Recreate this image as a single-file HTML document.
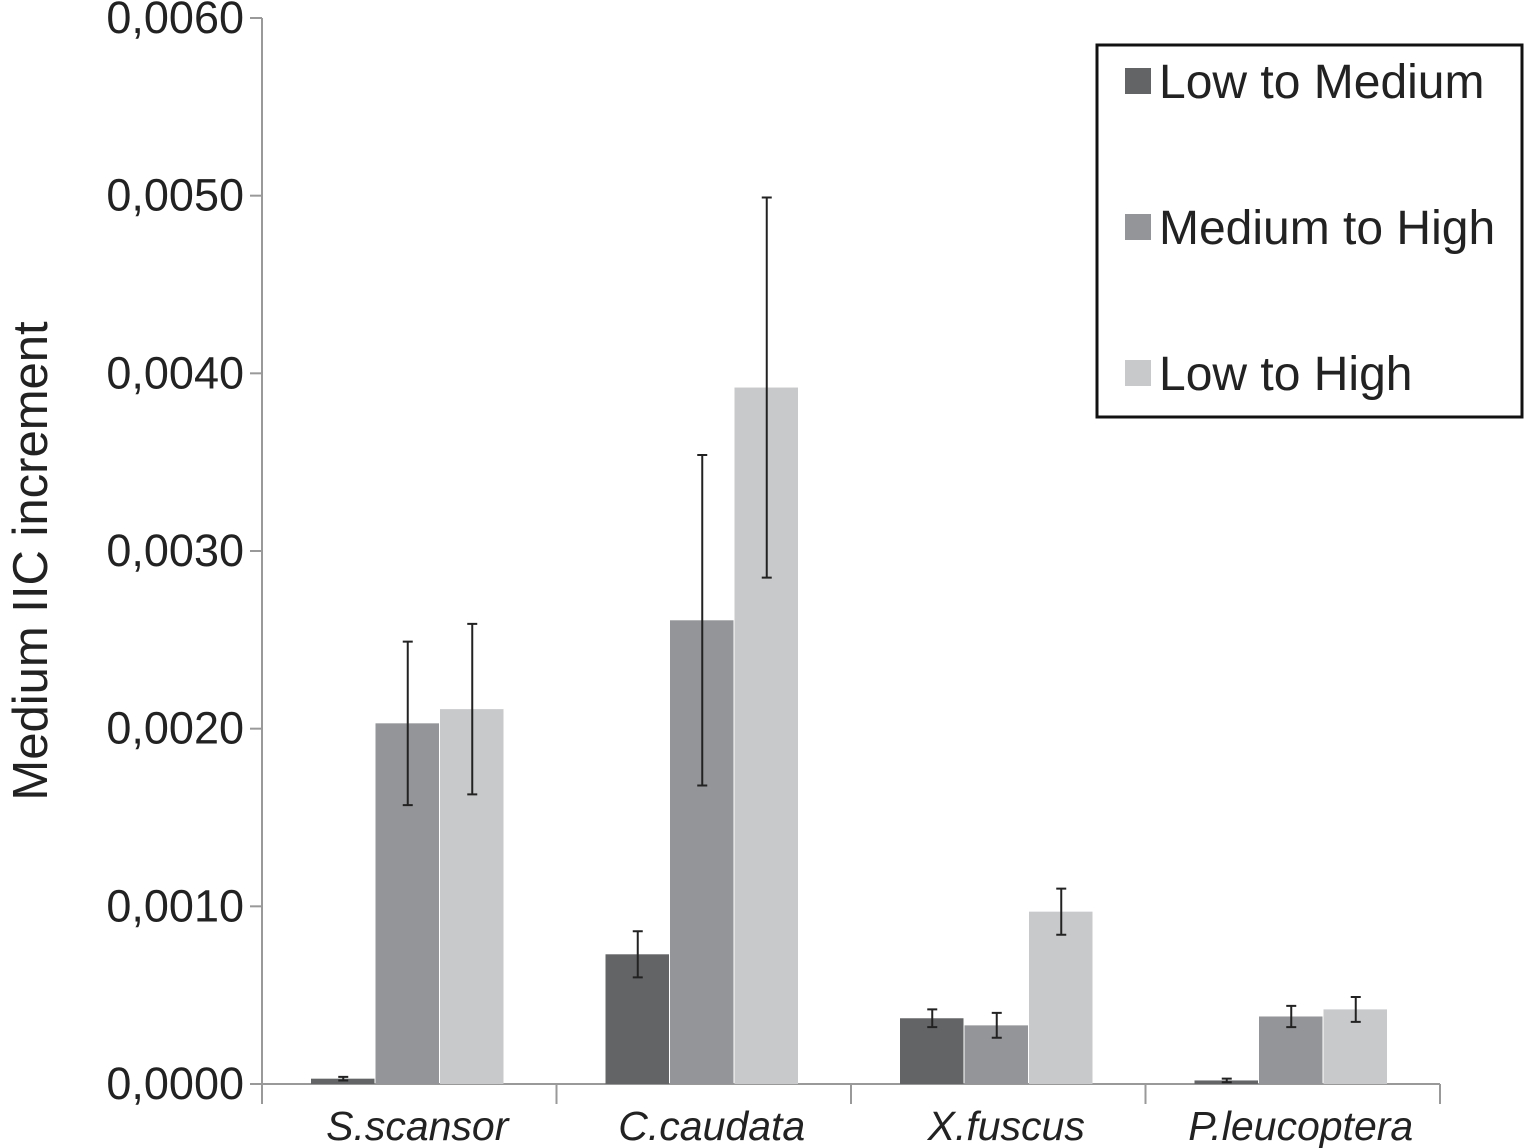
<!DOCTYPE html>
<html><head><meta charset="utf-8"><style>
body{margin:0;background:#fff;}
svg{display:block;font-family:"Liberation Sans",sans-serif;}
</style></head><body>
<svg id="chart" width="1525" height="1148"></svg>
<script>
const categories=["S.scansor","C.caudata","X.fuscus","P.leucoptera"];
const seriesNames=["Low to Medium","Medium to High","Low to High"];
const lowMed=[0.00003,0.00073,0.00037,0.00002];
const medHigh=[0.00203,0.00261,0.00033,0.00038];
const lowHigh=[0.00211,0.00392,0.00097,0.00042];
const errLowMed=[0.00001,0.00013,0.00005,0.00001];
const errMedHigh=[0.00046,0.00093,0.00007,0.00006];
const errLowHigh=[0.00048,0.00107,0.00013,0.00007];
const yTicks=["0,0000","0,0010","0,0020","0,0030","0,0040","0,0050","0,0060"];
const yTickVals=[0,0.001,0.002,0.003,0.004,0.005,0.006];

const NS="http://www.w3.org/2000/svg";
const svg=document.getElementById('chart');
const colors=["#636466","#939598","#c8c9cb"];
const x0=262,x1=1440,y0=1084,yTop=18,yMax=0.006;
const yS=v=>y0-(v/yMax)*(y0-yTop);
const catW=(x1-x0)/categories.length;
const barW=64.5;
function mk(t,a){const e=document.createElementNS(NS,t);for(const k in a)e.setAttribute(k,a[k]);svg.appendChild(e);return e;}

let e=mk('line',{x1:x0,y1:yTop,x2:x0,y2:y0,stroke:'#999','stroke-width':2});


e=mk('line',{x1:x0,y1:y0,x2:x1,y2:y0,stroke:'#999','stroke-width':2});


yTickVals.forEach((v,i)=>{
  const y=yS(v);
  mk('line',{x1:x0-12,y1:y,x2:x0,y2:y,stroke:'#999','stroke-width':2});
  const t=mk('text',{x:244,y:y+15,'text-anchor':'end','font-size':45,fill:'#222'});
  t.textContent=yTicks[i];
  
  
});
for(let i=0;i<=categories.length;i++){
  mk('line',{x1:x0+i*catW,y1:y0,x2:x0+i*catW,y2:y0+20,stroke:'#999','stroke-width':2});
}
const series=[lowMed,medHigh,lowHigh],errs=[errLowMed,errMedHigh,errLowHigh];
categories.forEach((c,i)=>{
  const gx=x0+i*catW+49;
  series.forEach((s,j)=>{
    const bx=gx+j*barW,y=yS(s[i]);
    const r=mk('rect',{x:bx,y:y,width:barW-1,height:y0-y,fill:colors[j]});
    
    
    const cx=bx+barW/2,yh=yS(s[i]+errs[j][i]),yl=yS(s[i]-errs[j][i]);
    const g=mk('path',{d:`M${cx},${yh}V${yl}M${cx-5},${yh}H${cx+5}M${cx-5},${yl}H${cx+5}`,stroke:'#222','stroke-width':2,fill:'none'});
    
    
  });
  const t=mk('text',{x:x0+i*catW+catW/2+8,y:1140,'text-anchor':'middle','font-size':41,'font-style':'italic',fill:'#222'});
  t.textContent=c;
  
  
});
const yl=mk('text',{x:0,y:0,transform:'translate(47,561) rotate(-90)','text-anchor':'middle','font-size':49,fill:'#222'});
yl.textContent="Medium IIC increment";


const lg=mk('rect',{x:1097,y:45,width:425,height:372,fill:'#fff',stroke:'#111','stroke-width':3});


seriesNames.forEach((n,j)=>{
  const cy=81+j*146;
  mk('rect',{x:1125,y:cy-13,width:26,height:26,fill:colors[j]});
  const t=mk('text',{x:1159,y:cy+17,'font-size':48,fill:'#222'});
  t.textContent=n;
  
  
});
</script>
</body></html>
